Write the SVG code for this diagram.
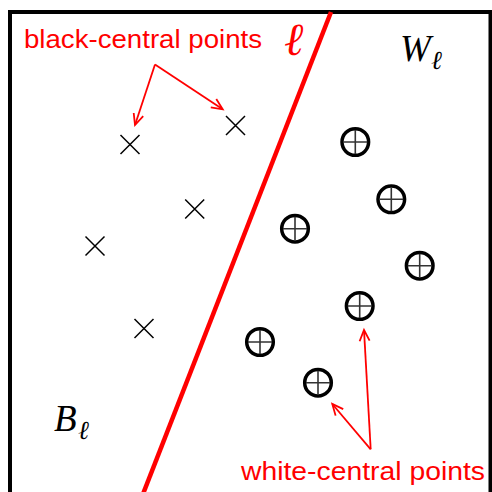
<svg xmlns="http://www.w3.org/2000/svg" width="492" height="492" viewBox="0 0 492 492">
  <defs>
    <style>
      .frame { fill: none; stroke: #000; stroke-width: 4; }
      .sep { stroke: #ff0000; stroke-width: 4.5; stroke-linecap: butt; }
      .cross { stroke: #000; stroke-width: 1.5; fill: none; }
      .ring { fill: #fff; stroke: #000; stroke-width: 3.5; }
      .plus { stroke: #333; stroke-width: 1.6; }
      .arrow { stroke: #ff0000; stroke-width: 1.8; fill: none; marker-end: url(#head); }
      .label { font-family: "Liberation Sans", Arial, sans-serif; font-size: 26.5px; fill: #ff0000; }
      .math { font-family: "Liberation Serif", "DejaVu Serif", serif; font-style: italic; fill: #000; }
    </style>
    <marker id="head" markerUnits="userSpaceOnUse" markerWidth="16" markerHeight="16" viewBox="-12 -8 14 16" refX="0" refY="0" orient="auto">
      <path d="M-11,-5 L0,0 L-11,5" fill="none" stroke="#ff0000" stroke-width="1.8"/>
    </marker>
    <g id="xmark"><path class="cross" d="M-9.5,-9.5 L9.5,9.5 M-9.5,9.5 L9.5,-9.5"/></g>
    <g id="omark"><circle class="ring" r="13.3"/><path class="plus" d="M-12,0 H12 M0,-12 V12"/></g>
  </defs>
  <rect width="492" height="492" fill="#fff"/>
  <path id="frame" class="frame" d="M10,494 V12 H490.5 V494"/>
  <g id="line-l"><line class="sep" x1="331" y1="12" x2="143" y2="494"/></g>
  <g id="black-points">
    <use href="#xmark" x="130" y="144.5"/>
    <use href="#xmark" x="235.5" y="125.5"/>
    <use href="#xmark" x="194.7" y="209"/>
    <use href="#xmark" x="95" y="246"/>
    <use href="#xmark" x="144" y="328.5"/>
  </g>
  <g id="white-points">
    <use href="#omark" x="355.3" y="142"/>
    <use href="#omark" x="391.3" y="199.3"/>
    <use href="#omark" x="295" y="228.7"/>
    <use href="#omark" x="419.7" y="265.7"/>
    <use href="#omark" x="359.7" y="306"/>
    <use href="#omark" x="260" y="342"/>
    <use href="#omark" x="318" y="382.7"/>
  </g>
  <g id="connectors">
    <line class="arrow" x1="155" y1="64.5" x2="135" y2="125"/>
    <line class="arrow" x1="155" y1="64.5" x2="222.7" y2="109.3"/>
    <line class="arrow" x1="370.7" y1="449.3" x2="332.3" y2="404"/>
    <line class="arrow" x1="370.7" y1="449.3" x2="364" y2="330"/>
  </g>
  <g id="label-black"><text class="label" x="24" y="47.5" textLength="238" lengthAdjust="spacingAndGlyphs">black-central points</text></g>
  <g id="label-white"><text class="label" x="241" y="480" textLength="244" lengthAdjust="spacingAndGlyphs">white-central points</text></g>
  <g id="label-l"><text x="284" y="55" font-family="Liberation Serif, DejaVu Serif, serif" font-style="italic" font-size="46" fill="#ff0000">ℓ</text></g>
  <g id="label-W"><text class="math" x="400" y="61" font-size="37">W</text><text class="math" x="431" y="69" font-size="26">ℓ</text></g>
  <g id="label-B"><text class="math" x="54" y="431" font-size="37">B</text><text class="math" x="78" y="439" font-size="26">ℓ</text></g>
</svg>
